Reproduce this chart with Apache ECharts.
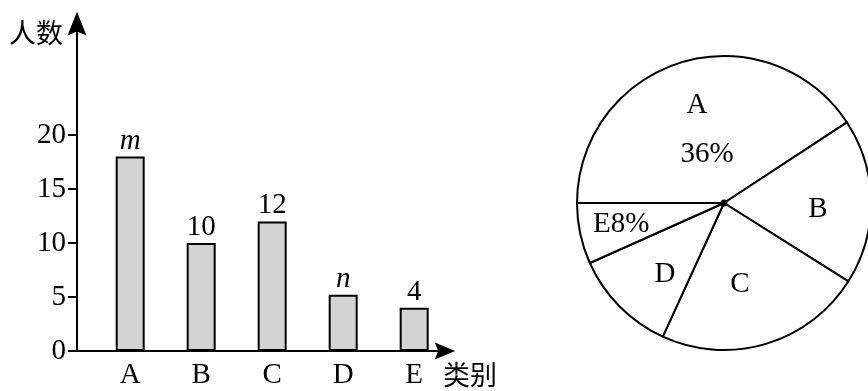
<!DOCTYPE html>
<html>
<head>
<meta charset="utf-8">
<script src="https://cdn.jsdelivr.net/npm/echarts@6/dist/echarts.min.js"></script>
<style>
html,body{margin:0;padding:0;background:#fff;}
#chart{width:868px;height:391px;}
</style>
</head>
<body>
<div id="chart"></div>
<script>
// ---- data ----
const categories = ['A', 'B', 'C', 'D', 'E'];
const counts = [18, 10, 12, 5.2, 4];
const barLabels = ['m', '10', '12', 'n', '4'];
const yTickValues = [0, 5, 10, 15, 20];
const yAxisName = '人数';
const xAxisName = '类别';
const pieNames = ['A', 'B', 'C', 'D', 'E'];
const pieSliceDegrees = [146.7, 65.5, 82.4, 41.3, 24.1]; // slice sizes as drawn
const pieLabels = ['A\n36%', 'B', 'C', 'D', 'E8%'];

// ---- styles ----
const SERIF = 'Liberation Serif';
const CJK = 'Noto Sans CJK SC';
const FS = 29;
const CFS = 27;
const pieLabelShift = [[0, 0.5], [17.5, 6.7], [-6, 7.6], [-4.8, 17.3], [-28, 5.7]];

const chart = echarts.init(document.getElementById('chart'), null, {renderer: 'canvas'});

const option = {
  animation: false,
  backgroundColor: '#fff',
  grid: {left: 77, right: 423, top: 23.5, bottom: 40, outerBoundsMode: 'none', containLabel: false},
  xAxis: {
    type: 'value',
    min: -0.749,
    max: 4.434,
    name: xAxisName,
    nameLocation: 'end',
    nameGap: -2,
    nameTextStyle: {fontFamily: CJK, fontSize: CFS, color: '#000', align: 'left', verticalAlign: 'top', padding: [10, 0, 0, 0]},
    splitLine: {show: false},
    axisLine: {
      onZero: false,
      lineStyle: {color: '#000', width: 2},
      symbol: ['none', 'path://M10,0 L20,24 L10,20 L0,24 Z'],
      symbolSize: [17, 24]
    },
    axisTick: {show: false},
    axisLabel: {
      customValues: categories.map((c, i) => i),
      formatter: v => categories[Math.round(v)] || '',
      fontFamily: SERIF, fontSize: FS, color: '#000', margin: 10
    }
  },
  yAxis: {
    type: 'value',
    min: 0,
    max: 30.32,
    name: yAxisName,
    nameLocation: 'end',
    nameGap: -9.5,
    nameTextStyle: {fontFamily: CJK, fontSize: CFS, color: '#000', align: 'right', verticalAlign: 'middle', padding: [0, 14, 0, 0]},
    splitLine: {show: false},
    axisLine: {
      onZero: false,
      lineStyle: {color: '#000', width: 2},
      symbol: ['none', 'path://M10,0 L20,25 L10,21 L0,25 Z'],
      symbolSize: [19, 25]
    },
    axisTick: {show: true, inside: false, length: 9, customValues: yTickValues, lineStyle: {color: '#000', width: 2}},
    axisLabel: {
      customValues: yTickValues,
      fontFamily: SERIF, fontSize: FS, color: '#000', margin: 11
    }
  },
  series: [
    {
      type: 'bar',
      barWidth: 29,
      data: counts.map((v, i) => [i, v]),
      itemStyle: {color: '#d3d3d3', borderColor: '#000', borderWidth: 2},
      label: {
        show: true,
        position: 'top',
        distance: 1,
        formatter: p => {
          const t = barLabels[p.dataIndex];
          return /^[a-z]$/.test(t) ? '{it|' + t + '}' : t;
        },
        fontFamily: SERIF, fontSize: FS, color: '#000',
        rich: {it: {fontFamily: SERIF, fontSize: FS, fontStyle: 'italic', color: '#000'}}
      },
      emphasis: {disabled: true},
      silent: true
    },
    {
      type: 'pie',
      center: [724, 203],
      radius: 147,
      startAngle: 180,
      clockwise: true,
      silent: true,
      emphasis: {disabled: true},
      itemStyle: {color: '#fff', borderColor: '#000', borderWidth: 2},
      data: pieNames.map((n, i) => ({name: n, value: pieSliceDegrees[i]})),
      label: {
        show: true,
        position: 'inside',
        formatter: p => {
          const t = pieLabels[p.dataIndex];
          if (t.indexOf('\n') >= 0) {
            const parts = t.split('\n');
            return '{a|' + parts[0] + '}\n{b|' + parts[1] + '}';
          }
          return t;
        },
        fontFamily: SERIF, fontSize: FS, color: '#000', lineHeight: 49,
        rich: {
          a: {fontFamily: SERIF, fontSize: FS, color: '#000', lineHeight: 49, padding: [0, 10, 0, 0]},
          b: {fontFamily: SERIF, fontSize: FS, color: '#000', lineHeight: 49, padding: [0, 0, 0, 10]}
        }
      },
      labelLine: {show: false},
      labelLayout: p => ({dx: pieLabelShift[p.dataIndex][0], dy: pieLabelShift[p.dataIndex][1]})
    },
    {
      type: 'pie',
      center: [724, 203],
      radius: 3.5,
      silent: true,
      emphasis: {disabled: true},
      itemStyle: {color: '#000'},
      label: {show: false},
      labelLine: {show: false},
      data: [1]
    }
  ]
};
chart.setOption(option);
</script>
</body>
</html>
